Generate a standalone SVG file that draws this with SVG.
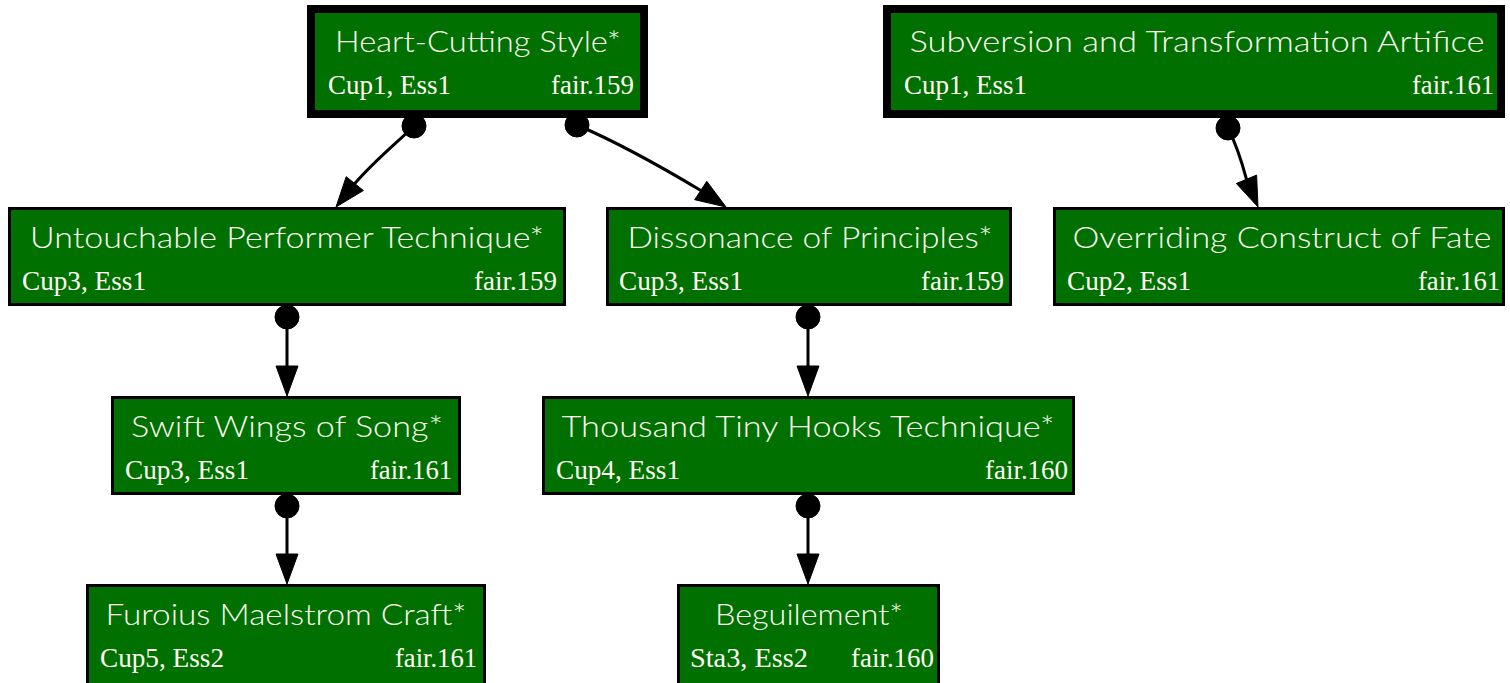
<svg xmlns="http://www.w3.org/2000/svg" width="1510" height="683" viewBox="0 0 1510 683">
  <style>
    .box { fill: #007000; stroke: #000; stroke-width: 3; }
    .box.root { stroke-width: 8; }
    .title { font-family: Lato, "Open Sans", sans-serif; font-weight: 300; font-size: 30px; fill: #fffff4; text-anchor: middle; }
    .sub { font-family: "Liberation Serif", serif; font-size: 27px; fill: #fffff4; }
    .sub.r { text-anchor: end; }
    .edge { fill: none; stroke: #000; stroke-width: 3; }
    .dot, .head { fill: #000; stroke: #000; stroke-width: 1; }
  </style>
  <rect width="1510" height="683" fill="#fff"/>

  <g id="connectors">
    <!-- Heart-Cutting Style -> Untouchable Performer Technique -->
    <circle class="dot" cx="414" cy="126" r="12"/>
    <path class="edge" d="M414,126 C400,140 375,160 354.8,183.6"/>
    <polygon class="head" points="336,207 363.4,190.5 346.2,176.7"/>
    <!-- Heart-Cutting Style -> Dissonance of Principles -->
    <circle class="dot" cx="577" cy="125" r="12"/>
    <path class="edge" d="M577,125 C605,137 650,160 700.8,190.5"/>
    <polygon class="head" points="726,207 694.7,199.7 706.8,181.3"/>
    <!-- Subversion -> Overriding Construct of Fate -->
    <circle class="dot" cx="1228" cy="128" r="12"/>
    <path class="edge" d="M1228,128 C1234,140 1240,155 1246.5,179.3"/>
    <polygon class="head" points="1258,207 1236.4,183.5 1256.6,175.1"/>
    <!-- Untouchable -> Swift Wings of Song -->
    <circle class="dot" cx="287" cy="317" r="12"/>
    <path class="edge" d="M287,317 L287,366"/>
    <polygon class="head" points="287,396 276,366 298,366"/>
    <!-- Dissonance -> Thousand Tiny Hooks -->
    <circle class="dot" cx="808" cy="317" r="12"/>
    <path class="edge" d="M808,317 L808,366"/>
    <polygon class="head" points="808,396 797,366 819,366"/>
    <!-- Swift Wings -> Furoius Maelstrom Craft -->
    <circle class="dot" cx="287" cy="506" r="12"/>
    <path class="edge" d="M287,506 L287,554"/>
    <polygon class="head" points="287,584 276,554 298,554"/>
    <!-- Thousand Tiny Hooks -> Beguilement -->
    <circle class="dot" cx="808" cy="506" r="12"/>
    <path class="edge" d="M808,506 L808,554"/>
    <polygon class="head" points="808,584 797,554 819,554"/>
  </g>

  <g id="heart-cutting-style">
    <rect class="box root" x="311" y="9" width="333" height="105"/>
    <text class="title" x="478" y="52" textLength="286" lengthAdjust="spacingAndGlyphs">Heart-Cutting Style*</text>
    <text class="sub" x="328" y="94" textLength="123" lengthAdjust="spacingAndGlyphs">Cup1, Ess1</text>
    <text class="sub r" x="634" y="94" textLength="83" lengthAdjust="spacingAndGlyphs">fair.159</text>
  </g>

  <g id="subversion-and-transformation-artifice">
    <rect class="box root" x="887" y="9" width="614" height="105"/>
    <text class="title" x="1197" y="52" textLength="575" lengthAdjust="spacingAndGlyphs">Subversion and Transformation Artifice</text>
    <text class="sub" x="904" y="94" textLength="123" lengthAdjust="spacingAndGlyphs">Cup1, Ess1</text>
    <text class="sub r" x="1494" y="94" textLength="82" lengthAdjust="spacingAndGlyphs">fair.161</text>
  </g>

  <g id="untouchable-performer-technique">
    <rect class="box" x="9.5" y="208.5" width="555" height="96"/>
    <text class="title" x="287" y="248" textLength="514" lengthAdjust="spacingAndGlyphs">Untouchable Performer Technique*</text>
    <text class="sub" x="22" y="290" textLength="124" lengthAdjust="spacingAndGlyphs">Cup3, Ess1</text>
    <text class="sub r" x="557" y="290" textLength="83" lengthAdjust="spacingAndGlyphs">fair.159</text>
  </g>

  <g id="dissonance-of-principles">
    <rect class="box" x="607.5" y="208.5" width="403" height="96"/>
    <text class="title" x="810" y="248" textLength="365" lengthAdjust="spacingAndGlyphs">Dissonance of Principles*</text>
    <text class="sub" x="619" y="290" textLength="124" lengthAdjust="spacingAndGlyphs">Cup3, Ess1</text>
    <text class="sub r" x="1004" y="290" textLength="83" lengthAdjust="spacingAndGlyphs">fair.159</text>
  </g>

  <g id="overriding-construct-of-fate">
    <rect class="box" x="1054.5" y="208.5" width="449" height="96"/>
    <text class="title" x="1282" y="248" textLength="419" lengthAdjust="spacingAndGlyphs">Overriding Construct of Fate</text>
    <text class="sub" x="1067" y="290" textLength="124" lengthAdjust="spacingAndGlyphs">Cup2, Ess1</text>
    <text class="sub r" x="1500" y="290" textLength="82" lengthAdjust="spacingAndGlyphs">fair.161</text>
  </g>

  <g id="swift-wings-of-song">
    <rect class="box" x="112.5" y="397.5" width="347" height="96"/>
    <text class="title" x="287" y="437" textLength="312" lengthAdjust="spacingAndGlyphs">Swift Wings of Song*</text>
    <text class="sub" x="125" y="479" textLength="124" lengthAdjust="spacingAndGlyphs">Cup3, Ess1</text>
    <text class="sub r" x="452" y="479" textLength="82" lengthAdjust="spacingAndGlyphs">fair.161</text>
  </g>

  <g id="thousand-tiny-hooks-technique">
    <rect class="box" x="543.5" y="397.5" width="530" height="96"/>
    <text class="title" x="808" y="437" textLength="493" lengthAdjust="spacingAndGlyphs">Thousand Tiny Hooks Technique*</text>
    <text class="sub" x="556" y="479" textLength="124" lengthAdjust="spacingAndGlyphs">Cup4, Ess1</text>
    <text class="sub r" x="1068" y="479" textLength="83" lengthAdjust="spacingAndGlyphs">fair.160</text>
  </g>

  <g id="furoius-maelstrom-craft">
    <rect class="box" x="87.5" y="585.5" width="397" height="100"/>
    <text class="title" x="286" y="625" textLength="361" lengthAdjust="spacingAndGlyphs">Furoius Maelstrom Craft*</text>
    <text class="sub" x="100" y="667" textLength="124" lengthAdjust="spacingAndGlyphs">Cup5, Ess2</text>
    <text class="sub r" x="477" y="667" textLength="82" lengthAdjust="spacingAndGlyphs">fair.161</text>
  </g>

  <g id="beguilement">
    <rect class="box" x="678.5" y="585.5" width="260" height="100"/>
    <text class="title" x="809" y="625" textLength="188" lengthAdjust="spacingAndGlyphs">Beguilement*</text>
    <text class="sub" x="690" y="667" textLength="118" lengthAdjust="spacingAndGlyphs">Sta3, Ess2</text>
    <text class="sub r" x="934" y="667" textLength="83" lengthAdjust="spacingAndGlyphs">fair.160</text>
  </g>
</svg>
